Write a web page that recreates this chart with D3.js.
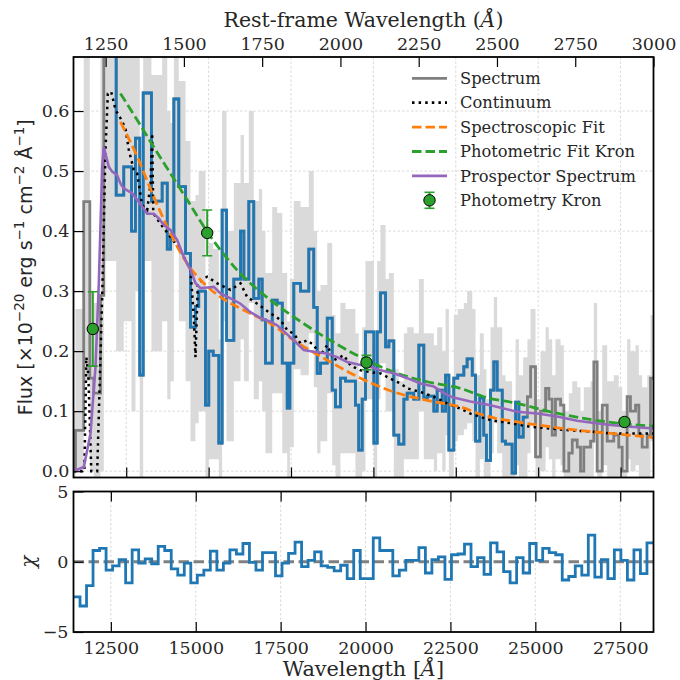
<!DOCTYPE html>
<html><head><meta charset="utf-8">
<script src="https://cdn.jsdelivr.net/npm/d3@7"></script>
<style>body{margin:0;background:#fff}svg{display:block}</style>
</head><body>
<svg id="c" width="680" height="680"></svg>
<script>
// ---------------- data ----------------
const redshift = 8.5;
const obsDomain = [10900, 28500];
const fluxDomain = [-0.0105, 0.69];
const chiDomain = [11400, 28480];
const obsTicks = [12500, 15000, 17500, 20000, 22500, 25000, 27500];
const restTicks = [1250, 1500, 1750, 2000, 2250, 2500, 2750, 3000];
const fluxTicks = [0.0, 0.1, 0.2, 0.3, 0.4, 0.5, 0.6];
const chiTicks = [-5, 0, 5];
const fitRange = [12025, 24675];
const specEnd = 28500;

const specStart = [10900,10960,11210,11395,11515,11720,11820,12025,12195,12425,12660,12780,12910,13015,13265,13590,13745,13845,13945,14095,
  14300,14450,14600,14700,14905,15005,15140,15310,15410,15545,15765,15970,16070,16220,16370,16525,16625,16725,16930,17080,
  17235,17385,17465,17585,17790,18040,18190,18295,18395,18600,18750,18850,19000,19155,19305,19455,19555,19660,19760,19860,
  20015,20115,20215,20370,20470,20620,20770,20925,21025,21225,21380,21530,21635,21835,21935,22090,22190,22290,22440,22560,
  22745,22845,23000,23100,23230,23350,23430,23555,23655,23755,23910,24010,24210,24315,24415,24545,24675,24770,24920,25070,
  25225,25325,25425,25525,25680,25780,25930,26035,26185,26285,26385,26590,26690,26790,26945,27095,27295,27445,27550,27700,
  27800,27955,28055,28155,28310,28410];
const specFlux = [0.0,0.068,0.449,0.155,0.13,0.293,0.80,0.80,0.46,0.507,0.40,0.555,0.16,0.63,0.45,0.48,0.37,0.39,0.62,0.474,
  0.363,0.24,0.274,0.30,0.11,0.20,0.193,0.047,0.435,0.218,0.32,0.40,0.32,0.449,0.288,0.32,0.252,0.18,0.285,0.28,
  0.18,0.105,0.18,0.313,0.30,0.37,0.273,0.163,0.18,0.255,0.135,0.107,0.155,0.15,0.15,0.11,0.035,0.12,0.232,0.232,
  0.047,0.232,0.297,0.207,0.217,0.06,0.045,0.12,0.13,0.12,0.21,0.122,0.125,0.10,0.135,0.10,0.16,0.035,0.155,0.16,
  0.174,0.187,0.16,0.05,0.122,0.06,0.018,0.135,0.182,0.135,0.05,0.045,-0.003,0.115,0.057,0.09,0.124,0.174,0.024,0.10,
  0.138,0.12,0.06,0.12,0.11,0.0,0.03,0.052,0.04,0.0,0.04,0.05,0.182,0.0,0.11,0.05,0.06,0.04,0.0,0.124,
  0.10,0.11,0.06,0.04,0.06,0.155];
const bandLo = [-0.02,0.0,0.15,0.0,-0.02,0.0,0.35,0.35,0.2,0.25,0.1,0.3,-0.02,0.35,0.2,0.25,0.12,0.15,0.38,0.25,
  0.15,0.05,0.08,0.1,-0.05,0.02,0.02,-0.05,0.25,0.05,0.15,0.22,0.15,0.28,0.12,0.15,0.1,0.03,0.13,0.13,
  0.03,-0.03,0.04,0.17,0.16,0.23,0.14,0.03,0.05,0.13,0.01,-0.02,0.03,0.03,0.03,-0.01,-0.05,0.0,0.12,0.12,
  -0.05,0.12,0.18,0.1,0.1,-0.04,-0.05,0.02,0.02,0.02,0.1,0.02,0.02,0.0,0.03,0.0,0.06,-0.06,0.05,0.06,
  0.07,0.08,0.05,-0.05,0.02,-0.04,-0.08,0.03,0.08,0.03,-0.05,-0.05,-0.1,0.01,-0.04,-0.01,0.03,0.08,-0.07,0.0,
  0.04,0.02,-0.04,0.02,0.01,-0.1,-0.07,-0.05,-0.06,-0.1,-0.06,-0.05,0.08,-0.1,0.01,-0.05,-0.04,-0.06,-0.1,0.02,
  0.0,0.01,-0.04,-0.06,-0.04,0.05];
const bandHi = [0.10,0.27,0.75,0.30,0.28,0.75,0.9,0.9,0.75,0.75,0.7,0.75,0.45,0.75,0.66,0.69,0.6,0.58,0.75,0.65,
  0.55,0.45,0.46,0.5,0.3,0.38,0.37,0.22,0.6,0.4,0.48,0.56,0.48,0.6,0.45,0.47,0.4,0.33,0.44,0.43,
  0.33,0.25,0.32,0.45,0.44,0.5,0.4,0.3,0.31,0.38,0.26,0.23,0.28,0.27,0.27,0.23,0.15,0.24,0.35,0.35,
  0.16,0.35,0.41,0.32,0.33,0.17,0.15,0.23,0.24,0.23,0.32,0.23,0.23,0.21,0.24,0.2,0.27,0.14,0.26,0.27,
  0.28,0.3,0.27,0.16,0.23,0.17,0.12,0.24,0.29,0.24,0.16,0.15,0.1,0.22,0.16,0.19,0.22,0.27,0.12,0.2,
  0.24,0.22,0.16,0.22,0.21,0.1,0.13,0.15,0.14,0.1,0.14,0.15,0.28,0.1,0.21,0.15,0.16,0.14,0.1,0.22,
  0.2,0.21,0.16,0.14,0.16,0.26];

const contWave = [10900,11230,11290,11350,11440,11550,11619,11770,11871,11942,12044,12175,12326,12478,12579,12730,12833,12985,13136,13237,
  13288,13320,13540,13843,14147,14450,14551,14602,14673,14957,15261,15664,15968,16171,16474,16878,17181,17385,17585,17788,
  17991,18192,18395,18598,18800,19103,19306,19609,19912,20216,20519,20823,21026,21430,21833,22240,22644,22947,23554,24160,
  24768,25375,25982,26588,27195,27802,28500];
const contFlux = [0.0,0.0,0.19,0.16,0.0,0.0,0.0,0.290,0.535,0.629,0.632,0.602,0.588,0.571,0.535,0.502,0.496,0.443,0.435,0.479,
  0.563,0.43,0.412,0.39,0.368,0.335,0.257,0.190,0.313,0.324,0.313,0.302,0.313,0.29,0.279,0.263,0.252,0.235,0.229,0.213,
  0.218,0.210,0.193,0.210,0.185,0.193,0.176,0.168,0.165,0.163,0.154,0.146,0.138,0.132,0.124,0.113,0.104,0.096,0.085,0.080,
  0.074,0.071,0.068,0.066,0.063,0.063,0.063];

const specFitWave = [12326,12833,13337,13843,14350,14854,15361,15867,16371,16878,17585,18598,19609,20620,21633,22644,23351,24364,25375,26385,27395,28500];
const specFitFlux = [0.582,0.524,0.457,0.396,0.346,0.313,0.290,0.274,0.260,0.246,0.218,0.185,0.155,0.132,0.118,0.107,0.093,0.082,0.074,0.067,0.062,0.056];

const photFitWave = [12326,12833,13337,13843,14350,14957,15867,16878,17585,18598,19609,20620,21633,22644,23351,24364,25375,26385,27395,28500];
const photFitFlux = [0.629,0.585,0.540,0.496,0.452,0.399,0.335,0.285,0.257,0.221,0.190,0.165,0.149,0.138,0.124,0.113,0.099,0.088,0.080,0.075];

const prosWave = [10900,11213,11416,11568,11668,11771,11819,11971,12074,12226,12326,12426,12530,12681,12833,12985,13136,13337,13489,13641,
  13843,14046,14247,14450,14602,14754,14957,15157,15361,15664,15968,16271,16575,16878,17081,17585,17889,18192,18598,18901,
  19206,19609,19912,20216,20620,21026,21430,21833,22137,22400,22947,23554,24364,24971,25578,26185,26588,27195,27802,28500];
const prosFlux = [0.0,0.007,0.063,0.174,0.313,0.507,0.540,0.507,0.499,0.493,0.479,0.471,0.468,0.463,0.452,0.441,0.429,0.429,0.421,0.410,
  0.402,0.385,0.357,0.335,0.313,0.305,0.306,0.307,0.296,0.288,0.279,0.265,0.255,0.249,0.243,0.218,0.202,0.199,0.196,0.190,
  0.182,0.177,0.174,0.168,0.163,0.155,0.146,0.141,0.130,0.123,0.116,0.110,0.099,0.096,0.091,0.084,0.081,0.077,0.074,0.071];

const photWave = [11486, 14957, 19791, 27620];
const photFlux = [0.237, 0.397, 0.181, 0.082];
const photErr = [0.062, 0.038, 0.012, 0.006];

const chiBinStart = 11400, chiBinWidth = 191.9;
const chiVal = [-2.5,-3.15,-1.7,0.8,0.95,-0.6,-0.3,0.15,-1.5,0.85,-0.1,0.2,-0.15,1.1,0.8,-0.5,-0.95,-0.1,-1.5,-0.95,
  -0.6,0.75,-0.6,-0.1,0.85,0.55,1.3,-0.05,-0.6,0.65,0.65,-1.0,-0.1,0.6,1.4,-0.35,0.1,0.7,-0.3,-0.4,
  -0.65,-0.25,-1.2,0.8,-1.2,-1.2,1.7,0.8,0.8,-1.0,-0.6,0.1,0.1,1.0,-0.8,0.15,0.35,-1.25,0.5,0.55,
  1.25,-0.35,0.3,-0.9,1.35,0.7,-0.7,-1.5,0.3,-0.8,1.3,0.1,0.95,0.65,0.5,-1.3,-1.05,-0.3,-0.95,1.9,
  -1.1,0.15,-1.2,0.85,0.1,-1.3,0.85,-0.85,1.35];

const legendLabels = ["Spectrum","Continuum","Spectroscopic Fit","Photometric Fit Kron","Prospector Spectrum","Photometry Kron"];

// ---------------- drawing ----------------
const svg = d3.select("#c");
const M = {l:73.5, r:653.5, t:57, b:477.5};
const C = {t:491.5, b:632};
const serif = "'DejaVu Serif', serif", sans = "'DejaVu Sans', sans-serif";
const blue="#1f77b4", orange="#ff7f0e", green="#2ca02c", purple="#9467bd", gray="#7f7f7f";
const LW = 2.8;

const x = d3.scaleLinear().domain(obsDomain).range([M.l, M.r]);
const xr = d3.scaleLinear().domain(obsDomain.map(d => d/(1+redshift))).range([M.l, M.r]);
const y = d3.scaleLinear().domain(fluxDomain).range([M.b, M.t]);
const xc = d3.scaleLinear().domain(chiDomain).range([M.l, M.r]);
const yc = d3.scaleLinear().domain([-5,5]).range([C.b, C.t]);

const defs = svg.append("defs");
defs.append("clipPath").attr("id","cm").append("rect").attr("x",M.l).attr("y",M.t).attr("width",M.r-M.l).attr("height",M.b-M.t);
defs.append("clipPath").attr("id","cc").append("rect").attr("x",M.l).attr("y",C.t).attr("width",M.r-M.l).attr("height",C.b-C.t);

// grids
const grid = svg.append("g").attr("stroke","#d0d0d0").attr("stroke-width",0.8).attr("stroke-dasharray","2.5,2");
obsTicks.forEach(t => grid.append("line").attr("x1",x(t)).attr("x2",x(t)).attr("y1",M.t).attr("y2",M.b));
fluxTicks.forEach(t => grid.append("line").attr("x1",M.l).attr("x2",M.r).attr("y1",y(t)).attr("y2",y(t)));
obsTicks.forEach(t => grid.append("line").attr("x1",xc(t)).attr("x2",xc(t)).attr("y1",C.t).attr("y2",C.b));

const gm = svg.append("g").attr("clip-path","url(#cm)");
const n = Math.min(specStart.length, specFlux.length, bandLo.length, bandHi.length);
const rows = d3.range(n).map(i => ({w:specStart[i], f:specFlux[i], lo:bandLo[i], hi:bandHi[i]}));
rows.push({w:specEnd, f:specFlux[n-1], lo:bandLo[n-1], hi:bandHi[n-1]});

// error band
gm.append("path").datum(rows)
  .attr("d", d3.area().curve(d3.curveStepAfter).x(d=>x(d.w)).y0(d=>y(d.lo)).y1(d=>y(d.hi)))
  .attr("fill","#dadada").attr("stroke","none");

const stepLine = d3.line().curve(d3.curveStepAfter).x(d=>x(d.w)).y(d=>y(d.f));
gm.append("path").datum(rows).attr("d",stepLine).attr("fill","none").attr("stroke",gray).attr("stroke-width",LW);
const fitRows = rows.filter(d => d.w >= fitRange[0] && d.w < fitRange[1]);
fitRows.push({w:fitRange[1], f:fitRows[fitRows.length-1].f});
gm.append("path").datum(fitRows).attr("d",stepLine).attr("fill","none").attr("stroke",blue).attr("stroke-width",LW);

const smooth = d3.line().x(d=>x(d[0])).y(d=>y(d[1]));
gm.append("path").datum(d3.zip(contWave,contFlux)).attr("d",smooth).attr("fill","none")
  .attr("stroke","#000").attr("stroke-width",2.5).attr("stroke-dasharray","2.5,4.1").attr("stroke-linecap","butt");
gm.append("path").datum(d3.zip(specFitWave,specFitFlux)).attr("d",smooth.curve(d3.curveMonotoneX)).attr("fill","none")
  .attr("stroke",orange).attr("stroke-width",LW).attr("stroke-dasharray","9.5,4");
gm.append("path").datum(d3.zip(photFitWave,photFitFlux)).attr("d",smooth.curve(d3.curveMonotoneX)).attr("fill","none")
  .attr("stroke",green).attr("stroke-width",LW).attr("stroke-dasharray","9.5,4");
gm.append("path").datum(d3.zip(prosWave,prosFlux)).attr("d",d3.line().x(d=>x(d[0])).y(d=>y(d[1]))).attr("fill","none")
  .attr("stroke",purple).attr("stroke-width",2.6);

// photometry
const ph = gm.append("g");
photWave.forEach((w,i) => {
  const cx = x(w);
  ph.append("line").attr("x1",cx).attr("x2",cx).attr("y1",y(photFlux[i]-photErr[i])).attr("y2",y(photFlux[i]+photErr[i]))
    .attr("stroke",green).attr("stroke-width",2);
  [photFlux[i]-photErr[i], photFlux[i]+photErr[i]].forEach(v =>
    ph.append("line").attr("x1",cx-5).attr("x2",cx+5).attr("y1",y(v)).attr("y2",y(v)).attr("stroke",green).attr("stroke-width",1.6));
  ph.append("circle").attr("cx",cx).attr("cy",y(photFlux[i])).attr("r",5.7).attr("fill",green).attr("stroke","#000").attr("stroke-width",1);
});

// legend
const lg = svg.append("g");
const ly0 = 78.3, ldy = 24.4, lx0 = 412, lx1 = 447;
legendLabels.forEach((lab,i) => {
  const yy = ly0 + i*ldy;
  lg.append("text").attr("x",460).attr("y",yy).attr("dy","0.35em").attr("font-family",serif).attr("font-size",16.3)
    .attr("fill","#262626").text(lab);
});
const lstyles = [[gray,null],["#000","2.5,4.1"],[orange,"9.5,4"],[green,"9.5,4"],[purple,null]];
lstyles.forEach((s,i) => {
  const yy = ly0 + i*ldy;
  const l = lg.append("line").attr("x1",lx0).attr("x2",lx1).attr("y1",yy).attr("y2",yy).attr("stroke",s[0]).attr("stroke-width",LW);
  if (s[1]) l.attr("stroke-dasharray",s[1]);
});
{
  const yy = ly0 + 5*ldy, cx = (lx0+lx1)/2;
  lg.append("line").attr("x1",cx).attr("x2",cx).attr("y1",yy-8).attr("y2",yy+8).attr("stroke",green).attr("stroke-width",2);
  [yy-8,yy+8].forEach(v => lg.append("line").attr("x1",cx-5).attr("x2",cx+5).attr("y1",v).attr("y2",v).attr("stroke",green).attr("stroke-width",1.6));
  lg.append("circle").attr("cx",cx).attr("cy",yy).attr("r",5.7).attr("fill",green).attr("stroke","#000").attr("stroke-width",1);
}

// chi panel
const gc = svg.append("g").attr("clip-path","url(#cc)");
gc.append("line").attr("x1",M.l).attr("x2",M.r).attr("y1",yc(0)).attr("y2",yc(0))
  .attr("stroke","#808080").attr("stroke-width",2.8).attr("stroke-dasharray","10.5,4.5");
const chiRows = chiVal.map((v,i) => [chiBinStart + i*chiBinWidth, v]);
chiRows.push([chiDomain[1], chiVal[chiVal.length-1]]);
gc.append("path").datum(chiRows).attr("d", d3.line().curve(d3.curveStepAfter).x(d=>xc(d[0])).y(d=>yc(d[1])))
  .attr("fill","none").attr("stroke",blue).attr("stroke-width",LW);

// axes
function styleAxis(g){
  g.select(".domain").remove();
  g.selectAll(".tick line").attr("stroke","#000").attr("stroke-width",1.2);
  g.selectAll(".tick text").attr("font-family",serif).attr("font-size",17.5).attr("fill","#262626");
}
svg.append("g").attr("transform",`translate(0,${M.b})`).call(d3.axisBottom(x).tickValues(obsTicks).tickSize(-10).tickFormat("")).call(styleAxis);
svg.append("g").attr("transform",`translate(0,${M.t})`).call(d3.axisTop(xr).tickValues(restTicks).tickSize(-10).tickPadding(7).tickFormat(d3.format("d"))).call(styleAxis);
svg.append("g").attr("transform",`translate(${M.l},0)`).call(d3.axisLeft(y).tickValues(fluxTicks).tickSize(-10).tickPadding(4).tickFormat(d3.format(".1f"))).call(styleAxis);
svg.append("g").attr("transform",`translate(0,${C.b})`).call(d3.axisBottom(xc).tickValues(obsTicks).tickSize(-10).tickPadding(10).tickFormat(d3.format("d"))).call(styleAxis);
svg.append("g").attr("transform",`translate(0,${C.t})`).call(d3.axisTop(xc).tickValues(obsTicks).tickSize(-10).tickFormat("")).call(styleAxis);
svg.append("g").attr("transform",`translate(${M.l},0)`).call(d3.axisLeft(yc).tickValues(chiTicks).tickSize(-10).tickPadding(5).tickFormat(d3.format("d"))).call(styleAxis);

// frames
[[M.t,M.b],[C.t,C.b]].forEach(([t,b]) => svg.append("rect").attr("x",M.l).attr("y",t).attr("width",M.r-M.l).attr("height",b-t)
  .attr("fill","none").attr("stroke","#000").attr("stroke-width",1.8));

// labels
const t1 = svg.append("text").attr("x",(M.l+M.r)/2).attr("y",27).attr("text-anchor","middle").attr("font-family",serif).attr("font-size",20.5).attr("fill","#262626");
t1.append("tspan").text("Rest-frame Wavelength (");
t1.append("tspan").attr("font-style","italic").text("Å");
t1.append("tspan").text(")");
const t2 = svg.append("text").attr("x",(M.l+M.r)/2).attr("y",676).attr("text-anchor","middle").attr("font-family",serif).attr("font-size",20.8).attr("fill","#262626");
t2.append("tspan").text("Wavelength [");
t2.append("tspan").attr("font-style","italic").text("Å");
t2.append("tspan").text("]");

const yl = svg.append("text").attr("transform",`translate(32,${(M.t+M.b)/2}) rotate(-90)`).attr("text-anchor","middle")
  .attr("font-family",sans).attr("font-size",19).attr("fill","#262626");
const parts = [["Flux [×10",null],["−20","sup"],[" erg s",null],["−1","sup"],[" cm",null],["−2","sup"],[" Å",null],["−1","sup"],["]",null]];
let prevSup = false;
parts.forEach(([t,s]) => {
  const ts = yl.append("tspan").text(t);
  if (s) { ts.attr("font-size",13.5).attr("dy", prevSup ? 0 : -8); prevSup = true; }
  else { if (prevSup) ts.attr("dy",8); prevSup = false; }
});
svg.append("text").attr("transform",`translate(35,${yc(0)}) rotate(-90)`).attr("text-anchor","middle")
  .attr("font-family",serif).attr("font-style","italic").attr("font-size",20).attr("fill","#262626").text("χ");
</script>
</body></html>
